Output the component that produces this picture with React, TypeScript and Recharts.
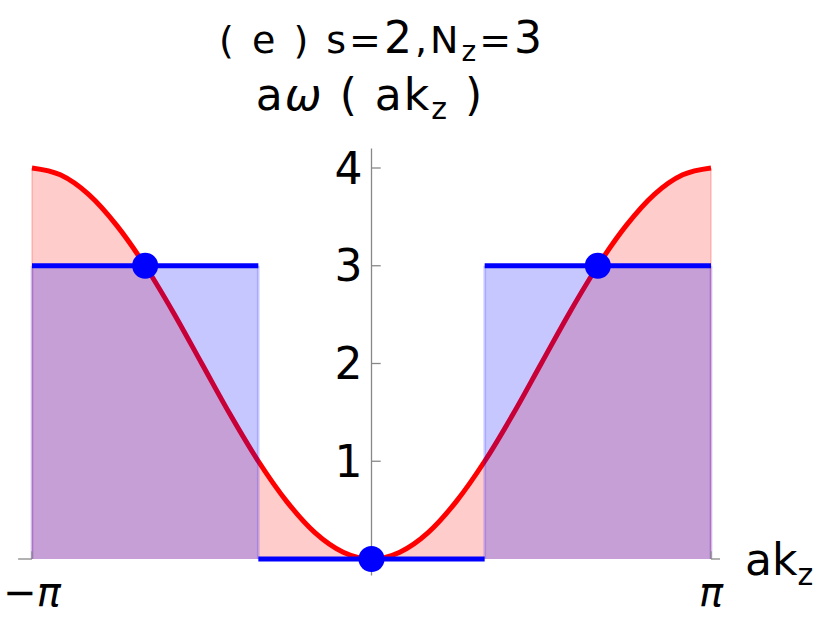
import React from "react";
import { Area, ComposedChart, Line, ReferenceLine, Scatter, XAxis, YAxis } from "recharts";

const PI = 3.1416;

const curveX = [-3.1416, -2.8798, -2.618, -2.3562, -2.0944, -1.8326, -1.5708, -1.309, -1.0472, -0.7854, -0.5236, -0.2618, 0, 0.2618, 0.5236, 0.7854, 1.0472, 1.309, 1.5708, 1.8326, 2.0944, 2.3562, 2.618, 2.8798, 3.1416];
const curveY = [4, 3.93, 3.73, 3.41, 3, 2.52, 2, 1.48, 1, 0.59, 0.27, 0.07, 0, 0.07, 0.27, 0.59, 1, 1.48, 2, 2.52, 3, 3.41, 3.73, 3.93, 4];

// blue step levels between the edges
const stepEdges = [-3.1416, -1.0472, 1.0472, 3.1416];
const stepLevels = [3, 0, 3];

// blue dots
const dotX = [-2.0944, 0, 2.0944];
const dotY = [3, 0, 3];

const yTicks = [1, 2, 3, 4];
const xTicks = [-3.1416, 3.1416];
const xTickLabels = ["−π", "π"];

const FONT = "DejaVu Sans";
const AXIS = "#888";

const curveData = curveX.map((x, i) => ({ x, y: curveY[i] }));
const dotData = dotX.map((x, i) => ({ x, y: dotY[i] }));
const segments = stepLevels.map((lvl, i) => [
  { x: stepEdges[i], y: lvl },
  { x: stepEdges[i + 1], y: lvl },
]);

const xTickLabel = (text: string) => (props: any) => {
  const vb = props.viewBox || {};
  const cx = vb.x + (vb.width || 0) / 2;
  const y = vb.y + (vb.height || 0) + 47;
  return (
    <text x={cx} y={y} textAnchor="middle" fontFamily={FONT} fontSize={40} fill="#000">
      {text.slice(0, -1)}
      <tspan fontStyle="italic">{text.slice(-1)}</tspan>
    </text>
  );
};

export default function App() {
  return (
    <div style={{ position: "absolute", left: 0, top: 0, width: 830, height: 620, background: "#fff" }}>
      <ComposedChart width={830} height={620} margin={{ top: 168, right: 119, bottom: 61, left: 32 }}>
        <XAxis
          type="number"
          dataKey="x"
          domain={[-PI, PI]}
          height={0}
          tick={false}
          tickLine={false}
          axisLine={{ stroke: AXIS, strokeWidth: 1.3 }}
        />
        <YAxis type="number" domain={[0, 4]} hide />

        <Area
          data={curveData}
          dataKey="y"
          type="monotone"
          fill="#ff0000"
          fillOpacity={0.2}
          stroke="#ff0000"
          strokeWidth={5}
          isAnimationActive={false}
        />
        <ReferenceLine segment={[{ x: -PI, y: 0 }, { x: -PI, y: 4 }]} stroke="#ff0000" strokeOpacity={0.15} strokeWidth={2} />
        <ReferenceLine segment={[{ x: PI, y: 0 }, { x: PI, y: 4 }]} stroke="#ff0000" strokeOpacity={0.15} strokeWidth={2} />

        {segments.map((seg, i) =>
          stepLevels[i] > 0 ? (
            <Area
              key={"bf" + i}
              data={seg}
              dataKey="y"
              type="linear"
              stroke="none"
              fill="#0000ff"
              fillOpacity={0.22}
              isAnimationActive={false}
            />
          ) : null
        )}
        {stepEdges.map((e, i) => (
          <ReferenceLine
            key={"be" + i}
            segment={[{ x: e, y: 0 }, { x: e, y: 3 }]}
            stroke="#0000ff"
            strokeOpacity={0.15}
            strokeWidth={3}
          />
        ))}
        {segments.map((seg, i) => (
          <Line
            key={"bl" + i}
            data={seg}
            dataKey="y"
            type="linear"
            stroke="#0000ff"
            strokeWidth={5}
            dot={false}
            isAnimationActive={false}
          />
        ))}

        <Scatter
          data={dotData}
          dataKey="y"
          isAnimationActive={false}
          shape={(p: any) => <circle cx={p.cx} cy={p.cy} r={13} fill="#0000ff" />}
        />

        {/* axis extensions and the y axis through the middle */}
        <ReferenceLine segment={[{ x: -3.27, y: 0 }, { x: -PI, y: 0 }]} stroke={AXIS} strokeWidth={1.3} ifOverflow="visible" />
        <ReferenceLine segment={[{ x: PI, y: 0 }, { x: 3.225, y: 0 }]} stroke={AXIS} strokeWidth={1.3} ifOverflow="visible" />
        <ReferenceLine
          segment={[{ x: 0, y: -0.17 }, { x: 0, y: 4.2 }]}
          stroke={AXIS}
          strokeWidth={1.3}
          ifOverflow="visible"
        />
        {yTicks.map((t) => (
          <ReferenceLine
            key={"yt" + t}
            segment={[{ x: 0, y: t }, { x: 0.085, y: t }]}
            stroke={AXIS}
            strokeWidth={1.3}
            label={{ value: String(t), position: "left", offset: 9, fontSize: 44, fill: "#000", fontFamily: FONT }}
          />
        ))}
        {xTicks.map((t, i) => (
          <ReferenceLine
            key={"xt" + i}
            segment={[{ x: t, y: 0 }, { x: t, y: 0.08 }]}
            stroke={AXIS}
            strokeWidth={1.3}
            label={xTickLabel(xTickLabels[i])}
          />
        ))}
      </ComposedChart>

      <svg width={830} height={620} style={{ position: "absolute", left: 0, top: 0, pointerEvents: "none" }}>
        <text x={382} y={53} textAnchor="middle" fontFamily={FONT} fontSize={38} letterSpacing={3} fill="#000">
          ( e ) s=<tspan fontSize={44}>2</tspan>,N
          <tspan fontSize={28} dy={8}>z</tspan>
          <tspan dy={-8}>=</tspan>
          <tspan fontSize={44}>3</tspan>
        </text>
        <text x={370} y={110} textAnchor="middle" fontFamily={FONT} fontSize={44} letterSpacing={2} fill="#000">
          a<tspan fontStyle="italic">ω</tspan> ( ak
          <tspan fontSize={30} dy={9}>z</tspan>
          <tspan dy={-9}> )</tspan>
        </text>
        <text x={745} y={575} fontFamily={FONT} fontSize={44} fill="#000">
          ak<tspan fontSize={30} dy={10}>z</tspan>
        </text>
      </svg>
    </div>
  );
}
